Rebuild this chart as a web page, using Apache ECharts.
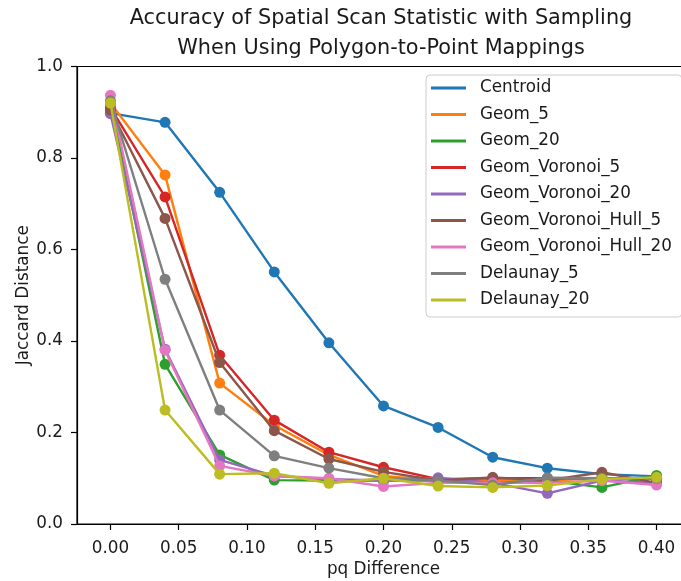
<!DOCTYPE html>
<html>
<head>
<meta charset="utf-8">
<script src="https://cdn.jsdelivr.net/npm/echarts@6/dist/echarts.min.js"></script>
<style>
  html, body { margin: 0; padding: 0; background: #ffffff; }
  #chart { width: 681px; height: 581px; }
</style>
</head>
<body>
<div id="chart"></div>
<script>
// pq difference values shared by every series
const pqDiff = [0, 0.04, 0.08, 0.12, 0.16, 0.20, 0.24, 0.28, 0.32, 0.36, 0.40];

// Jaccard distance per polygon-to-point mapping
const centroid          = [0.898, 0.878, 0.725, 0.551, 0.396, 0.258, 0.211, 0.146, 0.122, 0.109, 0.104];
const geom5             = [0.920, 0.763, 0.308, 0.216, 0.151, 0.105, 0.095, 0.095, 0.095, 0.100, 0.100];
const geom20            = [0.920, 0.349, 0.151, 0.096, 0.095, 0.095, 0.095, 0.090, 0.095, 0.080, 0.106];
const geomVoronoi5      = [0.910, 0.715, 0.369, 0.227, 0.157, 0.124, 0.098, 0.100, 0.100, 0.100, 0.100];
const geomVoronoi20     = [0.897, 0.382, 0.140, 0.105, 0.098, 0.095, 0.101, 0.090, 0.067, 0.095, 0.090];
const geomVoronoiHull5  = [0.905, 0.668, 0.353, 0.204, 0.142, 0.114, 0.095, 0.102, 0.095, 0.113, 0.090];
const geomVoronoiHull20 = [0.937, 0.380, 0.127, 0.105, 0.100, 0.082, 0.090, 0.090, 0.090, 0.095, 0.085];
const delaunay5         = [0.925, 0.535, 0.249, 0.149, 0.122, 0.100, 0.095, 0.085, 0.101, 0.100, 0.100];
const delaunay20        = [0.920, 0.249, 0.109, 0.111, 0.089, 0.100, 0.083, 0.080, 0.084, 0.098, 0.102];

const seriesNames = ['Centroid', 'Geom_5', 'Geom_20', 'Geom_Voronoi_5', 'Geom_Voronoi_20',
  'Geom_Voronoi_Hull_5', 'Geom_Voronoi_Hull_20', 'Delaunay_5', 'Delaunay_20'];
const seriesValues = [centroid, geom5, geom20, geomVoronoi5, geomVoronoi20,
  geomVoronoiHull5, geomVoronoiHull20, delaunay5, delaunay20];
const palette = ['#1f77b4', '#ff7f0e', '#2ca02c', '#d62728', '#9467bd',
  '#8c564b', '#e377c2', '#7f7f7f', '#bcbd22'];

// tick labels
const xTicks = [0, 0.05, 0.10, 0.15, 0.20, 0.25, 0.30, 0.35, 0.40];
const yTicks = [0, 0.2, 0.4, 0.6, 0.8, 1.0];

const FONT = 'DejaVu Sans';
const TEXT = '#1a1a1a';

const chart = echarts.init(document.getElementById('chart'), null, { renderer: 'canvas' });

const series = seriesNames.map((name, i) => ({
  name: name,
  type: 'line',
  data: pqDiff.map((x, j) => [x, seriesValues[i][j]]),
  symbol: 'circle',
  symbolSize: 11,
  showAllSymbol: true,
  animation: false,
  lineStyle: { width: 2.4, color: palette[i] },
  itemStyle: { color: palette[i] },
  emphasis: { disabled: true },
  z: 2 + i * 0.01
}));

chart.setOption({
  animation: false,
  color: palette,
  title: {
    text: 'Accuracy of Spatial Scan Statistic with Sampling\nWhen Using Polygon-to-Point Mappings',
    left: 376,
    top: -1,
    textAlign: 'center',
    textStyle: { fontFamily: FONT, fontSize: 20.8, fontWeight: 'normal', color: TEXT, lineHeight: 30 }
  },
  legend: {
    orient: 'vertical',
    left: 426,
    top: 75,
    padding: [4, 10, 8, 5],
    itemGap: 8.5,
    itemWidth: 35,
    itemHeight: 3,
    icon: 'rect',
    backgroundColor: 'rgba(255,255,255,0.85)',
    borderColor: '#cccccc',
    borderWidth: 1,
    borderRadius: 4,
    data: seriesNames,
    textStyle: { fontFamily: FONT, fontSize: 16.8, color: TEXT, lineHeight: 18, padding: [0, 0, 0, 9] },
    z: 10
  },
  grid: {
    show: true,
    left: 77,
    top: 66.5,
    width: 613,
    height: 457.5,
    borderColor: '#000000',
    borderWidth: 1.2,
    backgroundColor: 'transparent',
    outerBoundsMode: 'none',
    containLabel: false
  },
  xAxis: {
    type: 'value',
    min: -0.0245,
    max: 0.4245,
    name: 'pq Difference',
    nameLocation: 'middle',
    nameGap: 37,
    nameMoveOverlap: false,
    nameTextStyle: { fontFamily: FONT, fontSize: 16.8, color: TEXT },
    splitLine: { show: false },
    axisLine: { show: true, onZero: false, lineStyle: { color: '#000000', width: 1.2 } },
    axisTick: { show: true, length: 6, lineStyle: { color: '#000000', width: 1.2 }, customValues: xTicks },
    axisLabel: {
      customValues: xTicks,
      margin: 16,
      fontFamily: FONT, fontSize: 16.8, color: TEXT,
      formatter: v => v.toFixed(2)
    }
  },
  yAxis: {
    type: 'value',
    min: 0,
    max: 1,
    interval: 0.2,
    name: 'Jaccard Distance',
    nameLocation: 'middle',
    nameGap: 45,
    nameMoveOverlap: false,
    nameTextStyle: { fontFamily: FONT, fontSize: 16.8, color: TEXT },
    splitLine: { show: false },
    axisLine: { show: true, onZero: false, lineStyle: { color: '#000000', width: 1.2 } },
    axisTick: { show: true, length: 6, lineStyle: { color: '#000000', width: 1.2 }, customValues: yTicks },
    axisLabel: {
      customValues: yTicks,
      margin: 14,
      fontFamily: FONT, fontSize: 16.8, color: TEXT,
      formatter: v => v.toFixed(1)
    }
  },
  series: series
});
</script>
</body>
</html>
